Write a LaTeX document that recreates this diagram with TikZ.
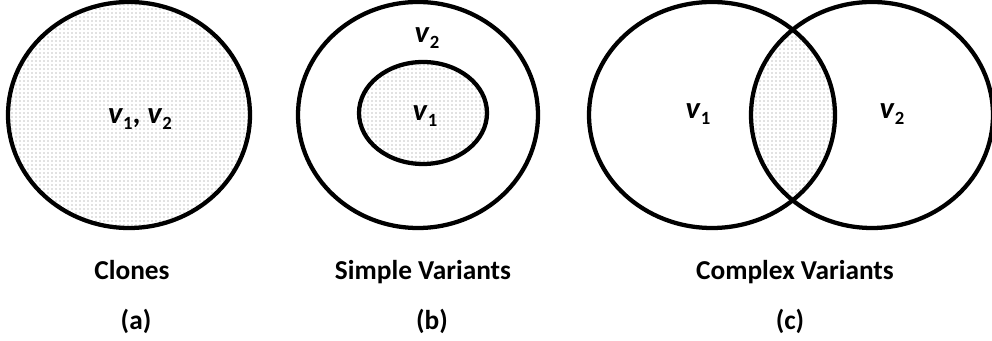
\documentclass[tikz,border=0pt]{standalone}
\usepackage{fontspec}
\setmainfont{Carlito}
\usetikzlibrary{patterns}

% v with a lowered subscript
\newcommand\vsub[1]{\textbf{\textit{v}}\raisebox{-5pt}{\fontsize{14}{14}\selectfont #1}}

\begin{document}
\begin{tikzpicture}[
  x=0.75pt, y=-0.75pt,
  % ---- Set styles ----
  setline/.style={draw=black, line width=3.2pt},
  dotfill/.style={pattern=dots, pattern color=black!50},
  % ---- Text styles ----
  setlabel/.style={font=\fontsize{23}{26}\selectfont\bfseries, inner sep=0pt},
  caption/.style={font=\fontsize{20.5}{24}\selectfont\bfseries, anchor=base, inner sep=0pt}
]
\useasboundingbox (0,0) rectangle (992,341);

% ===== (a) Clones =====
\path[dotfill] (129,115) ellipse [x radius=121, y radius=113];
\draw[setline] (129,115) ellipse [x radius=121, y radius=113];
\node[setlabel] (vab) at (140,119) {\vsub{1}, \vsub{2}};

% ===== (b) Simple variants =====
\draw[setline] (418,115) ellipse [x radius=120, y radius=113];
\path[dotfill] (423,113) ellipse [x radius=64, y radius=51];
\draw[setline] (423,113) ellipse [x radius=64, y radius=51];
\node[setlabel] (vbtwo) at (427,38) {\vsub{2}};
\node[setlabel] (vbone) at (425,116) {\vsub{1}};

% ===== (c) Complex variants =====
\begin{scope}
  \clip (712,115) ellipse [x radius=123, y radius=113];
  \path[dotfill] (872,115) ellipse [x radius=121, y radius=113];
\end{scope}
\draw[setline] (712,115) ellipse [x radius=123, y radius=113];
\draw[setline] (872,115) ellipse [x radius=121, y radius=113];
\node[setlabel] (vcone) at (698,114) {\vsub{1}};
\node[setlabel] (vctwo) at (892,114) {\vsub{2}};

% ===== Captions =====
\node[caption] (capa) at (132,280) {Clones};
\node[caption] (laba) at (136,330) {(a)};
\node[caption] (capb) at (423,280) {Simple Variants};
\node[caption] (labb) at (432,330) {(b)};
\node[caption] (capc) at (795,280) {Complex Variants};
\node[caption] (labc) at (790,330) {(c)};

\end{tikzpicture}
\end{document}
